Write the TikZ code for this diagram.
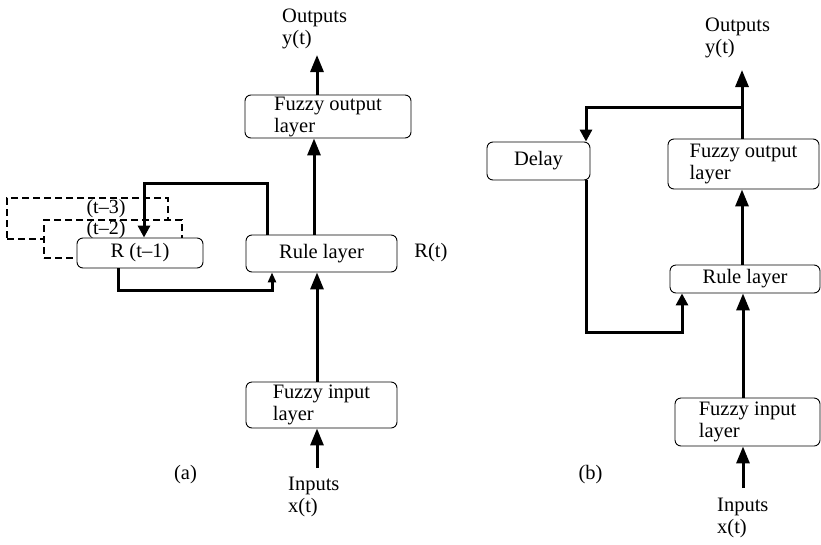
\documentclass[tikz,border=0pt]{standalone}
\usepackage{fontspec}
\setmainfont{Liberation Serif}
\usetikzlibrary{arrows.meta}
\begin{document}
\begin{tikzpicture}[x=1pt,y=-1pt,
  every node/.style={font=\fontsize{20.5}{22}\selectfont, inner sep=0pt},
  box/.style={draw, rounded corners=6pt, line width=0.9pt, fill=white},
  dbox/.style={draw, dash pattern=on 7pt off 4pt, line width=1.1pt, fill=white},
  arr/.style={line width=3pt, -{Triangle[length=17pt,width=13pt]}},
  marr/.style={line width=3pt, -{Triangle[length=12pt,width=12pt]}},
  sarr/.style={line width=3pt, -{Triangle[length=10pt,width=8pt]}},
  small/.style={font=\fontsize{20}{21}\selectfont},
  lbl/.style={align=left, anchor=west},
]
\useasboundingbox (0,0) rectangle (821,544);

% ---------------- (a) ----------------
\node[box, align=left, minimum width=166pt, minimum height=43pt] (fouta) at (328,116.5) {Fuzzy output\\layer};
\node[box, minimum width=151pt, minimum height=37pt] (rulea) at (321.5,253.5) {Rule layer};
\node[box, align=left, minimum width=151pt, minimum height=46pt] (fina) at (321.5,405) {Fuzzy input\\layer};

\node[dbox, minimum width=161pt, minimum height=41pt] (t3) at (87.5,218.5) {};
\node[dbox, minimum width=138pt, minimum height=38pt] (t2) at (113,239) {};
\node[small] (t3l) at (106,209) {(t–3)};
\node[small] (t2l) at (106,229.5) {(t–2)};
\node[box, minimum width=126pt, minimum height=30pt] (rm) at (140,253) {R (t–1)};

\node (rt) at (431,253) {R(t)};
\node[lbl] (outa) at (282,29) {Outputs\\y(t)};
\node[lbl] (ina) at (288,497) {Inputs\\x(t)};
\node (la) at (185.5,475) {(a)};

\coordinate (oa) at (317,55);
\draw[arr] (fouta.north -| oa) -- (oa);
\coordinate (ra) at (314,0);
\draw[arr] (rulea.north -| ra) -- (fouta.south -| ra);
\coordinate (ia) at (317,468);
\draw[arr] (fina.north -| ia) -- (rulea.south -| ia);
\draw[arr] (ia) -- (fina.south -| ia);

\coordinate (fa1) at (267,183);
\coordinate (fa2) at (144,183);
\draw[marr] (rulea.north -| fa1) -- (fa1) -- (fa2) -- (rm.north -| fa2);
\coordinate (fb1) at (118,290);
\coordinate (fb2) at (272,290);
\draw[sarr] (rm.south -| fb1) -- (fb1) -- (fb2) -- (rulea.south -| fb2);

% ---------------- (b) ----------------
\node[box, align=left, minimum width=151pt, minimum height=50pt] (foutb) at (743.5,164) {Fuzzy output\\layer};
\node[box, minimum width=150pt, minimum height=28pt] (ruleb) at (745,279) {Rule layer};
\node[box, align=left, minimum width=145pt, minimum height=48pt] (finb) at (747.5,422) {Fuzzy input\\layer};
\node[box, minimum width=103pt, minimum height=38pt] (delay) at (538.5,161) {Delay};

\node[lbl] (outb) at (705,38) {Outputs\\y(t)};
\node[lbl] (inb) at (717,518) {Inputs\\x(t)};
\node (lb) at (590.5,475) {(b)};

\coordinate (ob) at (742,70);
\draw[arr] (foutb.north -| ob) -- (ob);
\coordinate (bb1) at (742,107);
\coordinate (bb2) at (586,107);
\draw[marr] (bb1) -- (bb2) -- (delay.north -| bb2);
\draw[arr] (ruleb.north -| ob) -- (foutb.south -| ob);
\coordinate (ib) at (743,488);
\draw[arr] (finb.north -| ib) -- (ruleb.south -| ib);
\draw[arr] (ib) -- (finb.south -| ib);
\coordinate (db1) at (586,332);
\coordinate (db2) at (682,332);
\draw[marr] (delay.south -| db1) -- (db1) -- (db2) -- (ruleb.south -| db2);
\end{tikzpicture}
\end{document}
